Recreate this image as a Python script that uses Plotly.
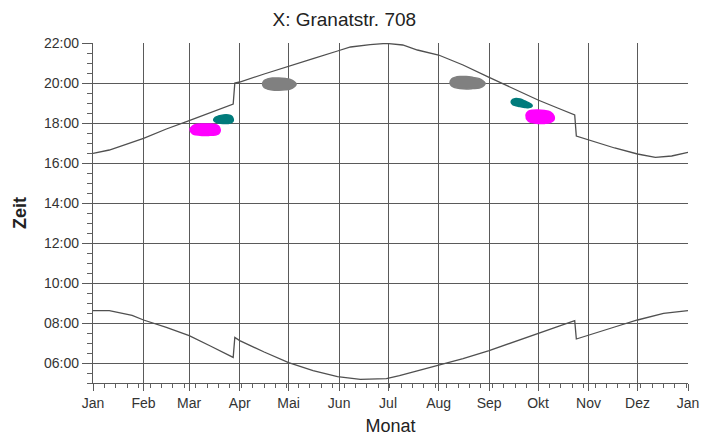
import plotly.graph_objects as go

# Monate (Tag im Jahr, Beschriftung)
monat_tage = [0, 31, 59, 90, 120, 151, 181, 212, 243, 273, 304, 334]
monat_namen = ["Jan", "Feb", "Mar", "Apr", "Mai", "Jun", "Jul", "Aug", "Sep", "Okt", "Nov", "Dez"]

# Sonnenuntergang (Stunden)
su_tag = [0, 10, 31, 45, 59, 72, 86, 87, 90, 105, 120, 135, 150, 158, 170, 180,
          190, 199, 212, 227, 243, 258, 273, 285, 295.5, 296.5, 304, 320, 334, 345, 355, 365]
su_zeit = [16.48, 16.65, 17.23, 17.7, 18.12, 18.52, 18.95, 20.0, 20.05, 20.45, 20.82, 21.22, 21.6, 21.8, 21.92, 21.98,
           21.9, 21.65, 21.4, 20.9, 20.28, 19.72, 19.15, 18.75, 18.4, 17.35, 17.15, 16.75, 16.45, 16.28, 16.35, 16.53]

# Sonnenaufgang (Stunden)
sa_tag = [0, 10, 24, 31, 45, 59, 72, 86, 87, 90, 105, 120, 135, 150, 164, 180,
          188, 200, 212, 227, 243, 258, 273, 285, 295.5, 296.5, 304, 320, 334, 350, 365]
sa_zeit = [8.62, 8.62, 8.38, 8.15, 7.78, 7.37, 6.85, 6.28, 7.28, 7.12, 6.55, 6.02, 5.62, 5.32, 5.18, 5.22,
           5.37, 5.62, 5.87, 6.22, 6.62, 7.05, 7.48, 7.85, 8.12, 7.2, 7.4, 7.8, 8.15, 8.48, 8.62]

# Schattenwurf-Zeitraeume: Tage, Beginn, Ende
grau1_tag = [104, 105, 107, 110, 114, 118, 121, 123, 124.5]
grau1_ende = [19.95, 20.12, 20.2, 20.25, 20.25, 20.22, 20.18, 20.1, 19.98]
grau1_beginn = [19.95, 19.78, 19.7, 19.65, 19.64, 19.66, 19.7, 19.78, 19.9]

grau2_tag = [219, 220, 222, 225, 229, 233, 237, 239, 240.5]
grau2_ende = [20.02, 20.2, 20.28, 20.32, 20.32, 20.28, 20.22, 20.12, 20.0]
grau2_beginn = [20.02, 19.85, 19.77, 19.72, 19.7, 19.72, 19.75, 19.82, 19.95]

teal1_tag = [74, 75, 77, 80, 83, 85, 86]
teal1_ende = [18.15, 18.28, 18.35, 18.4, 18.4, 18.35, 18.2]
teal1_beginn = [18.15, 18.05, 18.0, 17.98, 17.98, 18.02, 18.1]

teal2_tag = [256.5, 257.5, 259.5, 262, 265, 267.5, 269.3]
teal2_ende = [19.05, 19.18, 19.23, 19.2, 19.1, 19.0, 18.9]
teal2_beginn = [19.05, 18.92, 18.86, 18.82, 18.78, 18.77, 18.83]

mag1_tag = [59.5, 61, 63, 67, 71, 75, 77, 78]
mag1_ende = [17.68, 17.85, 17.92, 17.95, 17.95, 17.93, 17.85, 17.68]
mag1_beginn = [17.68, 17.47, 17.41, 17.38, 17.38, 17.4, 17.45, 17.6]

mag2_tag = [265.6, 267, 269.5, 273, 277, 280.5, 282.8]
mag2_ende = [18.4, 18.58, 18.64, 18.65, 18.62, 18.55, 18.35]
mag2_beginn = [18.4, 18.1, 18.02, 17.98, 17.98, 18.02, 18.15]

fig = go.Figure()

linie = dict(color="#505050", width=1.3)
fig.add_trace(go.Scatter(x=su_tag, y=su_zeit, mode="lines", line=linie, showlegend=False))
fig.add_trace(go.Scatter(x=sa_tag, y=sa_zeit, mode="lines", line=linie, showlegend=False))

flecken = [
    (grau1_tag, grau1_ende, grau1_beginn, "#808080"),
    (grau2_tag, grau2_ende, grau2_beginn, "#808080"),
    (teal1_tag, teal1_ende, teal1_beginn, "#007b7b"),
    (teal2_tag, teal2_ende, teal2_beginn, "#007b7b"),
    (mag1_tag, mag1_ende, mag1_beginn, "#ff00ff"),
    (mag2_tag, mag2_ende, mag2_beginn, "#ff00ff"),
]
for tage, ende, beginn, farbe in flecken:
    fig.add_trace(go.Scatter(
        x=tage + tage[::-1], y=ende + beginn[::-1],
        mode="lines", fill="toself", fillcolor=farbe,
        line=dict(color=farbe, width=1.5, shape="spline"),
        showlegend=False, hoverinfo="skip",
    ))

# unsichtbarer Punkt fuer die zweite x-Achse (letztes "Jan")
fig.add_trace(go.Scatter(x=[365], y=[None], xaxis="x2", showlegend=False))

gitter = "#5a5a5a"
fig.update_layout(
    width=705, height=430,
    margin=dict(l=85, r=25, t=35, b=55, autoexpand=False),
    paper_bgcolor="white", plot_bgcolor="white",
    font=dict(family="Liberation Sans, Arial, sans-serif", color="#333333", size=14),
    title=dict(text="X: Granatstr. 708", x=0.477, xref="container", xanchor="center",
               y=0.974, yanchor="middle", font=dict(size=19, color="#222222")),
    xaxis=dict(
        range=[0, 365], tickmode="array", tickvals=monat_tage, ticktext=monat_namen,
        showgrid=True, gridcolor=gitter, gridwidth=1.3,
        showline=True, linecolor=gitter, linewidth=1.3,
        ticks="outside", ticklen=7, tickcolor=gitter,
        minor=dict(tick0=0, dtick=7, ticks="outside", ticklen=4, tickcolor="#606060", showgrid=False),
        zeroline=False, automargin=False,
        title=dict(text="Monat", font=dict(size=18, color="#222222"), standoff=9),
    ),
    xaxis2=dict(
        range=[0, 365], overlaying="x", side="bottom", tickmode="array",
        tickvals=[365], ticktext=["Jan"], showgrid=False, showline=False,
        ticks="outside", ticklen=7, tickcolor=gitter, zeroline=False, automargin=False,
    ),
    yaxis=dict(
        range=[5, 22],
        tickvals=[6, 8, 10, 12, 14, 16, 18, 20, 22],
        ticktext=["06:00", "08:00", "10:00", "12:00", "14:00", "16:00", "18:00", "20:00", "22:00"],
        showgrid=True, gridcolor=gitter, gridwidth=1.3,
        showline=True, linecolor=gitter, linewidth=1.3,
        ticks="outside", ticklen=10, tickcolor=gitter,
        minor=dict(tick0=0, dtick=0.5, ticks="outside", ticklen=5, tickcolor="#606060", showgrid=False),
        zeroline=False, automargin=False,
        title=dict(text="<b>Zeit</b>", font=dict(size=18, color="#222222"), standoff=12),
    ),
)

fig.write_html("out.html")
